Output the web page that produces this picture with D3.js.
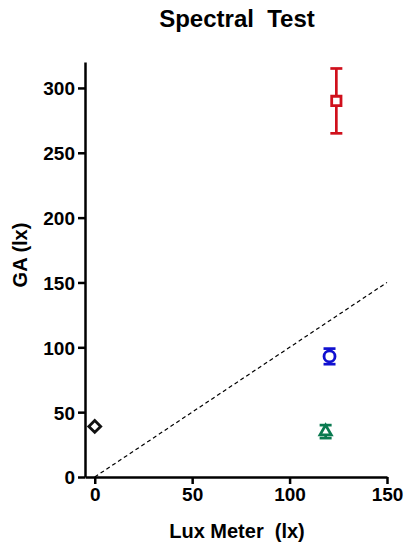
<!DOCTYPE html>
<html lang="en">
<head>
<meta charset="UTF-8">
<title>Spectral Test</title>
<script src="https://d3js.org/d3.v7.min.js"></script>
<style>
    body { margin: 0; background: #fff; }
    svg { font-family: "Liberation Sans", Arial, sans-serif; font-weight: bold; }
</style>
</head>
<body>
<div class="container"></div>
<script>
    // data
    const names = ["Ref", "Red", "Blue", "Green"];
    const luxMeter = [0, 124, 120.5, 118.5];
    const gaMean = [39, 290, 93, 35];
    const gaErr = [0, 25, 6, 5];
    const markers = ["diamond", "square", "circle", "triangle"];
    const colours = ["#111111", "#d0101c", "#1010d0", "#0a7a50"];
    const xTicks = [0, 50, 100, 150];
    const yTicks = [0, 50, 100, 150, 200, 250, 300];
    const identity = [0, 150];

    const width = 411, height = 550;
    const mLeft = 85, mRight = 387, mTop = 62, mBottom = 477;

    const svg = d3.select(".container").append("svg")
        .attr("width", width).attr("height", height);

    const x = d3.scaleLinear().domain([-5, 150]).range([mLeft, mRight]);
    const y = d3.scaleLinear().domain([0, 320]).range([mBottom, mTop]);

    // dashed y = x line
    svg.append("line")
        .attr("x1", x(identity[0])).attr("y1", y(identity[0]))
        .attr("x2", x(identity[1])).attr("y2", y(identity[1]))
        .attr("stroke", "#000").attr("stroke-width", 1.2)
        .attr("stroke-dasharray", "4,3");

    // axes
    const xAxis = svg.append("g")
        .attr("transform", `translate(0,${mBottom})`)
        .call(d3.axisBottom(x).tickValues(xTicks).tickSize(7).tickPadding(4).tickSizeOuter(0));
    const yAxis = svg.append("g")
        .attr("transform", `translate(${mLeft},0)`)
        .call(d3.axisLeft(y).tickValues(yTicks).tickSize(7).tickPadding(3).tickSizeOuter(0));

    [xAxis, yAxis].forEach(g => {
        g.select(".domain").attr("stroke", "#000").attr("stroke-width", 2.5);
        g.selectAll(".tick line").attr("stroke", "#000").attr("stroke-width", 2.5);
        g.selectAll(".tick text")
            .attr("fill", "#000")
            .style("font-size", "19px")
            .style("font-family", "'Liberation Sans', Arial, sans-serif")
            .style("font-weight", "bold");
    });
    yAxis.selectAll(".tick text").attr("dy", "0.36em");

    // error bars
    const pts = names.map((n, i) => ({ x: luxMeter[i], y: gaMean[i], e: gaErr[i], m: markers[i], c: colours[i] }));
    const eb = svg.append("g").selectAll("g")
        .data(pts.filter(d => d.e > 0))
        .join("g")
        .attr("stroke", d => d.c).attr("stroke-width", 2.7);
    eb.append("line")
        .attr("x1", d => x(d.x)).attr("x2", d => x(d.x))
        .attr("y1", d => y(d.y + d.e)).attr("y2", d => y(d.y - d.e));
    eb.append("line")
        .attr("x1", d => x(d.x) - 6).attr("x2", d => x(d.x) + 6)
        .attr("y1", d => y(d.y + d.e)).attr("y2", d => y(d.y + d.e));
    eb.append("line")
        .attr("x1", d => x(d.x) - 6).attr("x2", d => x(d.x) + 6)
        .attr("y1", d => y(d.y - d.e)).attr("y2", d => y(d.y - d.e));

    // markers
    const symbolType = {
        diamond: d3.symbolDiamond2,
        square: d3.symbolSquare2,
        circle: d3.symbolCircle,
        triangle: d3.symbolTriangle2
    };
    const symbolSize = { diamond: 90, square: 110, circle: 95, triangle: 90 };
    svg.append("g").selectAll("path")
        .data(pts)
        .join("path")
        .attr("transform", d => `translate(${x(d.x)},${y(d.y)})`)
        .attr("d", d => d3.symbol(symbolType[d.m], symbolSize[d.m])())
        .attr("fill", "#fff")
        .attr("stroke", d => d.c)
        .attr("stroke-width", 2.8);

    // title and labels
    svg.append("text")
        .attr("x", 237).attr("y", 27)
        .attr("text-anchor", "middle")
        .style("font-size", "24px")
        .text("Spectral\u00a0 Test");
    svg.append("text")
        .attr("x", 237).attr("y", 538)
        .attr("text-anchor", "middle")
        .style("font-size", "20px")
        .text("Lux Meter\u00a0 (lx)");
    svg.append("text")
        .attr("transform", "translate(27,255) rotate(-90)")
        .attr("text-anchor", "middle")
        .style("font-size", "20px")
        .text("GA (lx)");
</script>
</body>
</html>
